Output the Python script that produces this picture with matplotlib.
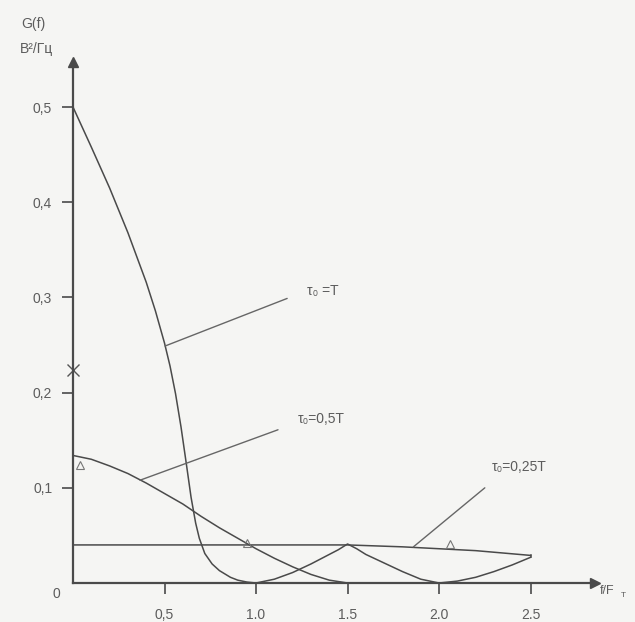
import matplotlib.pyplot as plt

# значения (f/F_T, G(f))
f_T = [0, 0.1, 0.2, 0.3, 0.4, 0.45, 0.5, 0.53, 0.56, 0.59, 0.62, 0.645, 0.67, 0.69,
       0.72, 0.76, 0.8, 0.86, 0.9, 0.95, 1.0, 1.1, 1.2, 1.3, 1.4, 1.45, 1.5,
       1.55, 1.6, 1.7, 1.8, 1.9, 2.0, 2.1, 2.2, 2.3, 2.4, 2.5]
G_T = [0.5, 0.458, 0.415, 0.368, 0.316, 0.286, 0.252, 0.228, 0.199, 0.164, 0.124, 0.090, 0.063, 0.047,
       0.031, 0.020, 0.013, 0.006, 0.003, 0.001, 0.0, 0.004, 0.011, 0.020, 0.030, 0.035, 0.041,
       0.036, 0.030, 0.021, 0.012, 0.004, 0.0, 0.002, 0.006, 0.012, 0.019, 0.027]

f_half = [0, 0.1, 0.2, 0.3, 0.4, 0.5, 0.6, 0.7, 0.8, 0.9, 1.0, 1.1, 1.2, 1.3, 1.4, 1.5]
G_half = [0.134, 0.130, 0.123, 0.115, 0.105, 0.094, 0.083, 0.070, 0.058, 0.047,
          0.036, 0.026, 0.017, 0.009, 0.003, 0.0]

f_quarter = [0, 0.5, 1.0, 1.5, 1.8, 2.0, 2.2, 2.5]
G_quarter = [0.040, 0.040, 0.040, 0.040, 0.038, 0.036, 0.034, 0.029]

# пометки карандашом
tri_f = [0.04, 0.95, 2.06]
tri_G = [0.124, 0.042, 0.041]

x_ticks = [0.5, 1.0, 1.5, 2.0, 2.5]
x_labels = ["0,5", "1.0", "1.5", "2.0", "2.5"]
y_ticks = [0.1, 0.2, 0.3, 0.4, 0.5]
y_labels = ["0,1", "0,2", "0,3", "0,4", "0,5"]

ink = "#4a4a4a"
txt = "#5c5c5c"
plt.rcParams["font.family"] = ["Liberation Sans", "DejaVu Sans"]

fig = plt.figure(figsize=(6.35, 6.22), dpi=100, facecolor="#f5f5f3")
ax = fig.add_axes([0.115, 0.0627, 0.822, 0.837])
ax.set_facecolor("none")

ax.plot(f_T, G_T, color=ink, lw=1.1)
ax.plot(f_half, G_half, color=ink, lw=1.1)
ax.plot(f_quarter, G_quarter, color=ink, lw=1.1)
ax.plot([f_quarter[-1], f_T[-1]], [G_quarter[-1], G_T[-1]], color=ink, lw=1.1)

ax.plot(tri_f, tri_G, ls="none", marker="^", ms=6, mfc="none", mec="#777", mew=0.8)
ax.plot([0.0], [0.224], ls="none", marker="x", ms=9, color="#555", mew=1.0,
        clip_on=False)

ax.set_xlim(0, 2.852)
ax.set_ylim(0, 0.547)
for s in ["top", "right"]:
    ax.spines[s].set_visible(False)
for s in ["left", "bottom"]:
    ax.spines[s].set_color(ink)
    ax.spines[s].set_linewidth(1.6)
ax.plot(1, 0, ">", color=ink, ms=7, transform=ax.transAxes, clip_on=False)
ax.plot(0, 1, "^", color=ink, ms=7, transform=ax.transAxes, clip_on=False)

ax.set_xticks(x_ticks)
ax.set_xticklabels(x_labels)
ax.set_yticks(y_ticks)
ax.set_yticklabels(y_labels)
ax.tick_params(direction="out", length=8, width=1.2, color=ink,
               labelcolor=txt, labelsize=10)
ax.tick_params(axis="x", pad=10)
ax.tick_params(axis="y", pad=7)

ax.text(-0.09, -0.012, "0", ha="center", va="center", color=txt, fontsize=10,
        clip_on=False)
fig.text(0.052, 0.962, "G(f)", ha="center", va="center", color=txt, fontsize=10)
fig.text(0.058, 0.921, "B²/Гц", ha="center", va="center", color=txt, fontsize=10)
fig.text(0.945, 0.050, "f/F", ha="left", va="center", color=txt, fontsize=9)
fig.text(0.977, 0.042, "T", ha="left", va="center", color=txt, fontsize=6)

line = dict(arrowstyle="-", color="#666", lw=1.0, shrinkA=0, shrinkB=0)
ax.annotate("", xy=(0.503, 0.249), xytext=(1.17, 0.299), arrowprops=line)
ax.text(1.28, 0.307, "τ₀ =T", color=txt, fontsize=10, va="center")
ax.annotate("", xy=(0.366, 0.108), xytext=(1.12, 0.161), arrowprops=line)
ax.text(1.23, 0.172, "τ₀=0,5T", color=txt, fontsize=10, va="center")
ax.annotate("", xy=(1.86, 0.038), xytext=(2.25, 0.100), arrowprops=line)
ax.text(2.29, 0.122, "τ₀=0,25T", color=txt, fontsize=10, va="center")

fig.savefig("out.png", dpi=100, facecolor=fig.get_facecolor())
